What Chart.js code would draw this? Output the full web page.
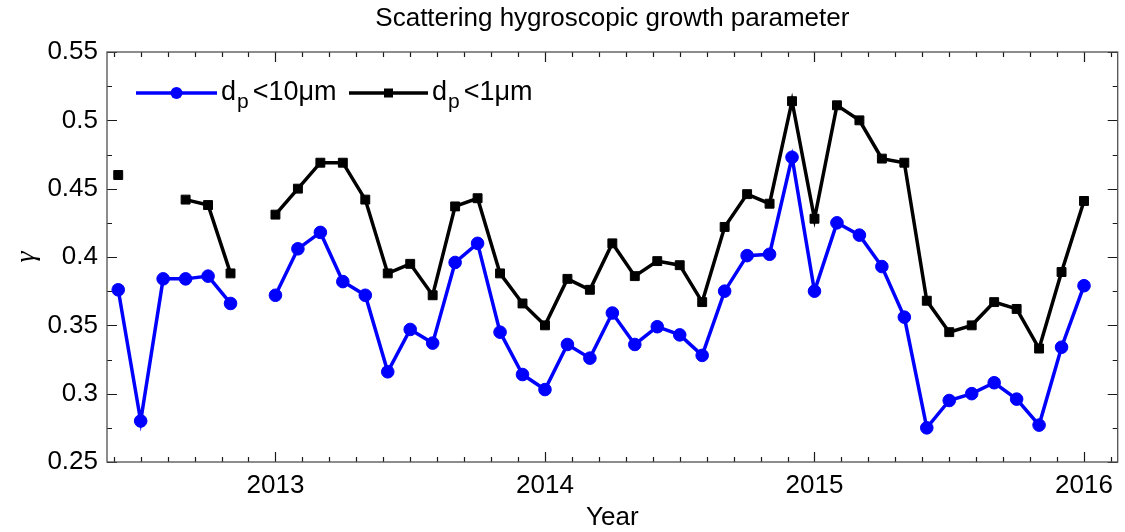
<!DOCTYPE html>
<html>
<head>
<meta charset="utf-8">
<script src="https://cdn.jsdelivr.net/npm/chart.js@4.4.1/dist/chart.umd.min.js"></script>
<style>
  html, body { margin: 0; padding: 0; background: #fff; }
  #wrap { width: 1125px; height: 532px; }
</style>
</head>
<body>
<div id="wrap"><canvas id="gammaChart" width="1125" height="532"></canvas></div>
<script>
// monthly means, Jun 2012 .. Jan 2016
const months = [
    '2012-06', '2012-07', '2012-08', '2012-09', '2012-10', '2012-11', '2012-12',
    '2013-01', '2013-02', '2013-03', '2013-04', '2013-05', '2013-06',
    '2013-07', '2013-08', '2013-09', '2013-10', '2013-11', '2013-12',
    '2014-01', '2014-02', '2014-03', '2014-04', '2014-05', '2014-06',
    '2014-07', '2014-08', '2014-09', '2014-10', '2014-11', '2014-12',
    '2015-01', '2015-02', '2015-03', '2015-04', '2015-05', '2015-06',
    '2015-07', '2015-08', '2015-09', '2015-10', '2015-11', '2015-12',
    '2016-01'
];

// d_p < 10 um
const gammaPm10 = [
    0.376, 0.280, 0.384, 0.384, 0.386, 0.366, null,
    0.372, 0.406, 0.418, 0.382, 0.372, 0.316,
    0.347, 0.337, 0.396, 0.410, 0.345, 0.314,
    0.303, 0.336, 0.326, 0.359, 0.336, 0.349,
    0.343, 0.328, 0.375, 0.401, 0.402, 0.473,
    0.375, 0.425, 0.416, 0.393, 0.356, 0.275,
    0.295, 0.300, 0.308, 0.296, 0.277, 0.334,
    0.379
];

// d_p < 1 um
const gammaPm1 = [
    0.460, null, null, 0.442, 0.438, 0.388, null,
    0.431, 0.450, 0.469, 0.469, 0.442, 0.388,
    0.395, 0.372, 0.437, 0.443, 0.388, 0.366,
    0.350, 0.384, 0.376, 0.410, 0.386, 0.397,
    0.394, 0.367, 0.422, 0.446, 0.439, 0.514,
    0.428, 0.511, 0.500, 0.472, 0.469, 0.368,
    0.345, 0.350, 0.367, 0.362, 0.333, 0.389,
    0.441
];

const yearTicks = [2013, 2014, 2015, 2016];
const gammaTicks = [0.25, 0.3, 0.35, 0.4, 0.45, 0.5, 0.55];

const FONT = "'Liberation Sans', Arial, sans-serif";

// '2013-04' -> 2013.25
function toYear(m) {
    const [yr, mo] = m.split('-').map(Number);
    return yr + (mo - 1) / 12;
}

function toPoints(values) {
    return months.map((m, i) => ({ x: toYear(m), y: values[i] }));
}

// MATLAB style box with inward ticks on all four sides
const boxTicks = {
    id: 'boxTicks',
    afterDatasetsDraw(chart) {
        const { ctx, chartArea: a, scales: { x, y } } = chart;
        ctx.save();
        ctx.strokeStyle = '#1a1a1a';
        ctx.lineWidth = 1.2;
        ctx.beginPath();
        for (let t = 20124; t <= 20161; t++) {
            const px = Math.round(x.getPixelForValue(t / 10)) + 0.5;
            const len = t % 10 === 0 ? 10 : 5;
            ctx.moveTo(px, a.bottom); ctx.lineTo(px, a.bottom - len);
            ctx.moveTo(px, a.top); ctx.lineTo(px, a.top + len);
        }
        for (let t = 10; t <= 22; t++) {
            const py = Math.round(y.getPixelForValue(t * 0.025)) + 0.5;
            const len = t % 2 === 0 ? 10 : 5;
            ctx.moveTo(a.left, py); ctx.lineTo(a.left + len, py);
            ctx.moveTo(a.right, py); ctx.lineTo(a.right - len, py);
        }
        ctx.stroke();
        ctx.strokeStyle = '#505050';
        ctx.lineWidth = 1.3;
        ctx.strokeRect(a.left, a.top, a.right - a.left, a.bottom - a.top);
        ctx.restore();
    }
};

// title above the axes and the legend inside the top left corner
const labels = {
    id: 'labels',
    afterDraw(chart) {
        const { ctx, chartArea: a } = chart;
        ctx.save();
        ctx.fillStyle = '#000';
        ctx.font = `26px ${FONT}`;
        ctx.textAlign = 'center';
        ctx.textBaseline = 'middle';
        ctx.fillText('Scattering hygroscopic growth parameter', (a.left + a.right) / 2, 19);

        const entries = [
            { color: '#0000ff', width: 3.5, shape: 'circle', x0: 136, x1: 217, text: '<10\u03bcm' },
            { color: '#000000', width: 3.5, shape: 'rect', x0: 349, x1: 428, text: '<1\u03bcm' }
        ];
        const ly = 93;
        entries.forEach(e => {
            ctx.strokeStyle = e.color;
            ctx.fillStyle = e.color;
            ctx.lineWidth = e.width;
            ctx.beginPath();
            ctx.moveTo(e.x0, ly); ctx.lineTo(e.x1, ly);
            ctx.stroke();
            const cx = (e.x0 + e.x1) / 2;
            ctx.beginPath();
            if (e.shape === 'circle') ctx.arc(cx, ly, 6, 0, Math.PI * 2);
            else ctx.rect(cx - 4.5, ly - 4.5, 9, 9);
            ctx.fill();

            ctx.fillStyle = '#000';
            ctx.textAlign = 'left';
            ctx.textBaseline = 'alphabetic';
            let tx = e.x1 + 4;
            ctx.font = `27px ${FONT}`;
            ctx.fillText('d', tx, ly + 7);
            tx += ctx.measureText('d').width;
            ctx.font = `21px ${FONT}`;
            ctx.fillText('p', tx + 1, ly + 15);
            tx += ctx.measureText('p').width + 5;
            ctx.font = `27px ${FONT}`;
            ctx.fillText(e.text, tx, ly + 7);
        });
        ctx.restore();
    }
};

new Chart(document.getElementById('gammaChart'), {
    type: 'line',
    data: {
        datasets: [
            {
                label: 'dp<10\u03bcm',
                data: toPoints(gammaPm10),
                borderColor: '#0000ff',
                backgroundColor: '#0000ff',
                borderWidth: 3.5,
                pointStyle: 'circle',
                pointRadius: 6.3,
                pointBorderWidth: 1,
                pointHoverRadius: 6.3,
                spanGaps: false,
                tension: 0
            },
            {
                label: 'dp<1\u03bcm',
                data: toPoints(gammaPm1),
                borderColor: '#000000',
                backgroundColor: '#000000',
                borderWidth: 3.5,
                pointStyle: 'rect',
                pointRadius: 6.3,
                pointBorderWidth: 1,
                pointHoverRadius: 6.3,
                spanGaps: false,
                tension: 0
            }
        ]
    },
    options: {
        responsive: false,
        animation: false,
        devicePixelRatio: 1,
        layout: { padding: { top: 52, right: 4, left: 0, bottom: 0 } },
        plugins: {
            legend: { display: false },
            title: { display: false },
            tooltip: { enabled: false }
        },
        scales: {
            x: {
                type: 'linear',
                min: 2012 + 4.5 / 12,
                max: 2016 + 1.5 / 12,
                afterBuildTicks: scale => { scale.ticks = yearTicks.map(v => ({ value: v })); },
                afterFit: scale => { scale.height = 70; },
                grid: { display: false, drawTicks: false },
                border: { display: false },
                ticks: {
                    color: '#000',
                    font: { family: FONT, size: 26 },
                    padding: 8,
                    maxRotation: 0,
                    callback: v => String(v)
                },
                title: {
                    display: true,
                    text: 'Year',
                    color: '#000',
                    font: { family: FONT, size: 26 },
                    padding: { top: 0, bottom: -1 }
                }
            },
            y: {
                min: 0.25,
                max: 0.55,
                afterBuildTicks: scale => { scale.ticks = gammaTicks.map(v => ({ value: v })); },
                afterFit: scale => { scale.width = 107; },
                grid: { display: false, drawTicks: false },
                border: { display: false },
                ticks: {
                    color: '#000',
                    font: { family: FONT, size: 26 },
                    padding: 9,
                    callback: v => String(+v.toFixed(2))
                },
                title: {
                    display: true,
                    text: '\u03b3',
                    color: '#000',
                    font: { family: "'Liberation Serif', serif", size: 28, style: 'italic' },
                    padding: { top: 10, bottom: 0 }
                }
            }
        }
    },
    plugins: [boxTicks, labels]
});
</script>
</body>
</html>
